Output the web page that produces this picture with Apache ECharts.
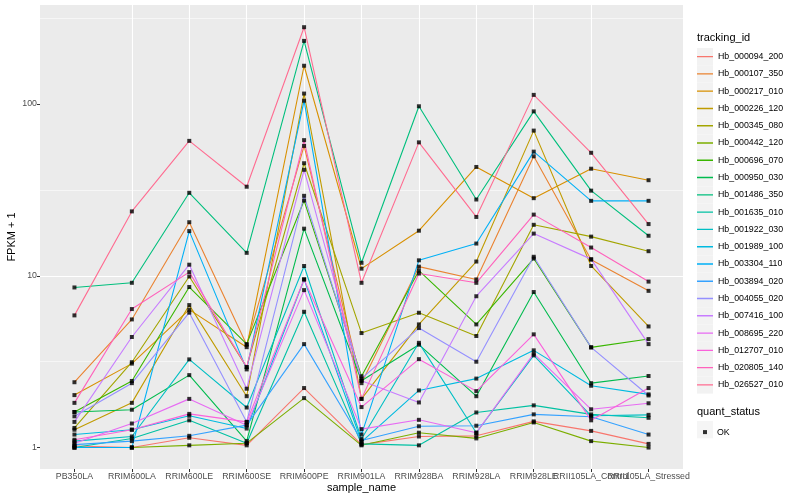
<!DOCTYPE html>
<html><head><meta charset="utf-8">
<script src="https://cdn.jsdelivr.net/npm/echarts@6/dist/echarts.min.js"></script>
<style>html,body{margin:0;padding:0;background:#fff}#c{width:800px;height:500px}</style>
</head><body><div id="c"></div>
<script>
const categories = ['PB350LA','RRIM600LA','RRIM600LE','RRIM600SE','RRIM600PE','RRIM901LA','RRIM928BA','RRIM928LA','RRIM928LE','RRII105LA_Control','RRII105LA_Stressed'];
const trackingIds = ['Hb_000094_200','Hb_000107_350','Hb_000217_010','Hb_000226_120','Hb_000345_080','Hb_000442_120','Hb_000696_070','Hb_000950_030','Hb_001486_350','Hb_001635_010','Hb_001922_030','Hb_001989_100','Hb_003304_110','Hb_003894_020','Hb_004055_020','Hb_007416_100','Hb_008695_220','Hb_012707_010','Hb_020805_140','Hb_026527_010'];
const yMajorTicks = [1, 10, 100];
const yMinorTicks = [3.1623, 31.623, 316.23];

const hb000094_200 = [1.02, 1.00, 1.14, 1.03, 2.22, 1.04, 1.16, 1.17, 1.42, 1.25, 1.05];
const hb000107_350 = [2.40, 5.57, 20.5, 3.97, 57, 2.37, 11.3, 9.52, 49.6, 12.4, 8.17];
const hb000217_010 = [2.02, 3.08, 6.35, 3.84, 167, 11.0, 18.3, 43, 28.3, 42, 36];
const hb000226_120 = [1.27, 1.82, 6.75, 1.99, 115, 1.92, 5.21, 12.1, 70, 11.4, 5.07];
const hb000345_080 = [1.30, 3.14, 9.9, 2.94, 45.2, 4.64, 6.09, 4.46, 19.8, 16.9, 13.9];
const hb000442_120 = [1.00, 1.00, 1.03, 1.06, 1.94, 1.03, 1.22, 1.13, 1.40, 1.09, 1.00];
const hb000696_070 = [1.61, 2.44, 8.6, 4.0, 27.4, 2.60, 10.7, 5.21, 12.6, 3.83, 4.28];
const hb000950_030 = [1.61, 1.66, 2.64, 1.09, 18.8, 2.45, 3.97, 1.99, 8.04, 2.37, 2.61];
const hb001486_350 = [8.55, 9.1, 30.4, 13.6, 233, 11.9, 97, 27.8, 90.6, 31.3, 17.1];
const hb001635_010 = [1.00, 1.13, 1.44, 1.06, 6.17, 1.05, 1.03, 1.60, 1.76, 1.56, 1.49];
const hb001922_030 = [1.09, 1.16, 3.26, 1.71, 11.4, 1.12, 4.07, 1.22, 3.44, 1.53, 1.55];
const hb001989_100 = [1.19, 1.27, 1.53, 1.29, 9.52, 1.08, 2.15, 2.52, 3.68, 2.29, 2.04];
const hb003304_110 = [1.00, 1.00, 18.2, 2.85, 104.5, 1.19, 12.3, 15.4, 52.8, 27.3, 27.3];
const hb003894_020 = [1.04, 1.09, 1.17, 1.35, 4.0, 1.10, 1.33, 1.34, 1.56, 1.51, 1.19];
const hb004055_020 = [1.52, 2.37, 6.1, 1.41, 29.2, 2.52, 4.96, 3.16, 12.9, 3.83, 2.01];
const hb007416_100 = [1.41, 4.40, 11.6, 2.20, 41.4, 2.45, 1.83, 7.6, 17.6, 12.5, 4.0];
const hb008695_220 = [1.06, 1.38, 1.92, 1.35, 8.25, 1.28, 1.45, 1.22, 3.52, 1.67, 1.81];
const hb012707_010 = [1.11, 1.27, 1.57, 1.41, 9.52, 1.72, 3.27, 2.13, 4.56, 1.44, 2.22];
const hb020805_140 = [1.82, 6.4, 10.5, 2.94, 61.6, 1.92, 10.3, 9.1, 22.7, 14.6, 9.25];
const hb026527_010 = [5.88, 23.7, 61, 33, 280, 9.1, 59.8, 22, 113, 52, 20];

const seriesValues = [hb000094_200, hb000107_350, hb000217_010, hb000226_120, hb000345_080, hb000442_120, hb000696_070, hb000950_030, hb001486_350, hb001635_010, hb001922_030, hb001989_100, hb003304_110, hb003894_020, hb004055_020, hb007416_100, hb008695_220, hb012707_010, hb020805_140, hb026527_010];
const palette = ['#F8766D','#EA8331','#D89000','#C09B00','#A3A500','#7CAE00','#39B600','#00BB4E','#00BF7D','#00C1A3','#00BFC4','#00BAE0','#00B0F6','#35A2FF','#9590FF','#C77CFF','#E76BF3','#FA62DB','#FF62BC','#FF6C91'];

const FONT = 'Liberation Sans';
const chart = echarts.init(document.getElementById('c'), null, {renderer: 'canvas'});

const lineSeries = trackingIds.map((id, k) => ({
  name: id, type: 'line', symbol: 'none', showSymbol: false,
  lineStyle: {width: 1.1, color: palette[k]}, itemStyle: {color: palette[k]},
  emphasis: {disabled: true}, silent: true, animation: false, z: 2,
  data: seriesValues[k].map((v, i) => [i, v])
}));
const pointData = [];
seriesValues.forEach(arr => arr.forEach((v, i) => pointData.push([i, v])));

const KEY_H = 17.28;
const legendCommon = {
  orient: 'vertical', left: 697, top: 48, itemWidth: 16, itemHeight: KEY_H, itemGap: 0, padding: 0,
  selectedMode: false, textStyle: {fontFamily: FONT, fontSize: 8.8, color: '#000', lineHeight: KEY_H}
};
const lineIcon = 'path://M0,0L0.001,0L0,0ZM0,7.9H16V9.3H0ZM0,17.28L0.001,17.28L0,17.28Z';

const catIdx = categories.map((c, i) => i);
const xLabelStyle = {fontFamily: FONT, fontSize: 8.8, color: '#4D4D4D', margin: 3, hideOverlap: false};

chart.setOption({
  animation: false,
  backgroundColor: '#fff',
  color: palette,
  grid: {left: 40, right: 117, top: 5, bottom: 31, show: true, backgroundColor: '#EBEBEB', borderWidth: 0, containLabel: false, outerBoundsMode: 'none'},
  title: [
    {text: 'tracking_id', left: 697, top: 32, padding: 0, textStyle: {fontFamily: FONT, fontSize: 11, fontWeight: 'normal', color: '#000'}},
    {text: 'quant_status', left: 697, top: 406, padding: 0, textStyle: {fontFamily: FONT, fontSize: 11, fontWeight: 'normal', color: '#000'}}
  ],
  graphic: [
    {type: 'text', x: 361.5, y: 488, silent: true,
     style: {text: 'sample_name', x: 0, y: 0, align: 'center', verticalAlign: 'middle', fill: '#000', font: '11px "Liberation Sans"'}},
    {type: 'text', x: 12, y: 237, rotation: Math.PI / 2, silent: true,
     style: {text: 'FPKM + 1', x: 0, y: 0, align: 'center', verticalAlign: 'middle', fill: '#000', font: '11px "Liberation Sans"'}}
  ],
  legend: [
    Object.assign({}, legendCommon, {data: trackingIds, icon: 'rect', itemStyle: {color: '#F2F2F2'}, textStyle: {fontFamily: FONT, fontSize: 8.8, color: 'rgba(0,0,0,0)', lineHeight: KEY_H}}),
    Object.assign({}, legendCommon, {data: trackingIds, icon: lineIcon}),
    Object.assign({}, legendCommon, {top: 421, data: ['OK'], icon: 'rect', itemStyle: {color: '#F2F2F2'}, textStyle: {fontFamily: FONT, fontSize: 8.8, color: 'rgba(0,0,0,0)', lineHeight: KEY_H}}),
    {orient: 'vertical', left: 703, top: 427.6, padding: 0, itemWidth: 4, itemHeight: 4, selectedMode: false, data: ['OK'], icon: 'rect',
     textStyle: {fontFamily: FONT, fontSize: 8.8, color: '#000', padding: [0, 0, 0, 5]}}
  ],
  xAxis: [{
    type: 'value', min: -0.6, max: 10.6, minInterval: 1, maxInterval: 1,
    axisLine: {show: false, onZero: false},
    axisTick: {show: true, length: 3, lineStyle: {color: '#333', width: 1}, customValues: catIdx},
    axisLabel: Object.assign({customValues: catIdx.filter(i => i !== 9), formatter: v => categories[Math.round(v)] || ''}, xLabelStyle),
    splitLine: {show: true, showMinLine: false, showMaxLine: false, lineStyle: {color: '#fff', width: 1.1}}
  }, {
    type: 'value', min: -0.6, max: 10.6, minInterval: 1, maxInterval: 1, position: 'bottom', offset: 0,
    axisLine: {show: false, onZero: false},
    axisTick: {show: false, customValues: [9]},
    axisLabel: Object.assign({customValues: [9], formatter: v => categories[Math.round(v)] || ''}, xLabelStyle),
    splitLine: {show: false}
  }],
  yAxis: [{
    type: 'log', logBase: 10, min: 0.75, max: 377,
    axisLine: {show: false, onZero: false},
    axisTick: {show: true, length: 3, lineStyle: {color: '#333', width: 1}, customValues: yMajorTicks},
    axisLabel: {customValues: yMajorTicks, fontFamily: FONT, fontSize: 8.8, color: '#4D4D4D', margin: 3},
    splitLine: {show: true, showMinLine: false, showMaxLine: false, lineStyle: {color: '#fff', width: 1.1}}
  }],
  series: lineSeries.concat([{
    name: 'OK', type: 'scatter', symbol: 'rect', symbolSize: 4, z: 5, silent: true,
    itemStyle: {color: '#000'}, data: pointData,
    markLine: {
      silent: true, symbol: 'none', z: 1, animation: false,
      label: {show: false},
      lineStyle: {color: '#fff', width: 0.55, type: 'solid'},
      emphasis: {disabled: true},
      data: yMinorTicks.map(v => ({yAxis: v}))
    }
  }])
});
</script></body></html>
